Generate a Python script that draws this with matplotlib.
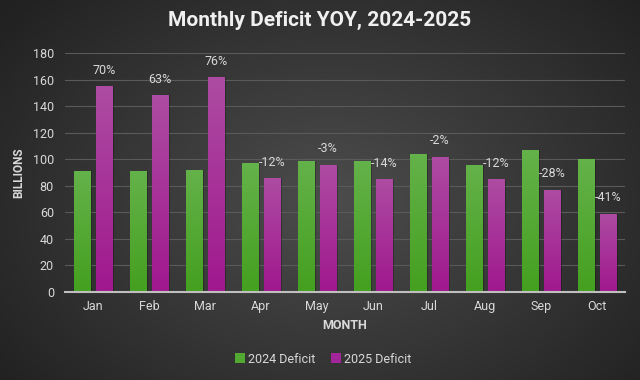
import numpy as np
import matplotlib
matplotlib.use("Agg")
from matplotlib import pyplot as plt

months = ["Jan", "Feb", "Mar", "Apr", "May", "Jun", "Jul", "Aug", "Sep", "Oct"]
deficit_2024 = [91, 91, 92, 97, 99, 99, 104, 96, 107, 100]
deficit_2025 = [155, 148, 162, 86, 96, 85, 102, 85, 77, 59]
yoy_labels = ["70%", "63%", "76%", "-12%", "-3%", "-14%", "-2%", "-12%", "-28%", "-41%"]

plt.rcParams['font.family'] = ['Roboto', 'DejaVu Sans']
txt = '#d9d9d9'

fig = plt.figure(figsize=(6.4, 3.8), dpi=100)

# radial gradient background
bg = fig.add_axes([0, 0, 1, 1], zorder=-10)
yy, xx = np.mgrid[0:380, 0:640]
r = np.sqrt(((xx - 330) / 420.0) ** 2 + ((yy - 200) / 300.0) ** 2)
shade = np.clip(0.30 - 0.17 * r, 0.13, 0.30)
bg.imshow(np.dstack([shade, shade, shade]), aspect='auto', extent=[0, 1, 0, 1])
bg.axis('off')

ax = fig.add_axes([65 / 640, 88 / 380, 560 / 640, 239 / 380])
ax.patch.set_alpha(0)

x = np.arange(len(months))
w = 0.3
off = 0.195
b1 = ax.bar(x - off, deficit_2024, w, color='#52a832', label='2024 Deficit', zorder=3)
b2 = ax.bar(x + off, deficit_2025, w, color='#a3259a', label='2025 Deficit', zorder=3)

# vertical gradient fill on each bar
def shade_bars(bars, top, bottom):
    grad = np.linspace(0, 1, 100).reshape(-1, 1)
    top = np.array(matplotlib.colors.to_rgb(top))
    bottom = np.array(matplotlib.colors.to_rgb(bottom))
    img = top * (1 - grad[..., None]) + bottom * grad[..., None]
    for bar in bars:
        bx, by = bar.get_x(), bar.get_y()
        bw, bh = bar.get_width(), bar.get_height()
        # shadow
        ax.bar(bx + bw / 2 + 0.03, bh, bw, bottom=by, color='black', alpha=0.25, zorder=2)
        im = ax.imshow(img, extent=[bx, bx + bw, by, by + bh], aspect='auto', zorder=4, origin='upper')
        im.set_clip_path(bar)

shade_bars(b1, '#64b24a', '#44a01f')
shade_bars(b2, '#ad4ca2', '#a0188e')

for xi, v, lab in zip(x, deficit_2025, yoy_labels):
    ax.text(xi + off, v + 7, lab, ha='center', va='bottom', color=txt, fontsize=9, zorder=5)

ax.set_xlim(-0.5, len(months) - 0.5)
ax.set_ylim(0, 180)
ax.set_yticks(range(0, 181, 20))
ax.set_xticks(x)
ax.set_xticklabels(months)
ax.tick_params(colors=txt, labelsize=9, length=0, pad=8)
ax.tick_params(axis='x', pad=6)
ax.grid(axis='y', color='#5a5a5a', linewidth=0.8, zorder=0)
for s in ['top', 'right', 'left']:
    ax.spines[s].set_visible(False)
ax.spines['bottom'].set_color('#bfbfbf')
ax.spines['bottom'].set_linewidth(1.5)
ax.spines['bottom'].set_zorder(6)

ax.set_xlabel("MONTH", color=txt, fontsize=9, fontweight='bold', labelpad=4)
ax.set_ylabel("BILLIONS", color=txt, fontsize=8.5, fontweight='bold', labelpad=5)

fig.text(0.5, 0.945, "Monthly Deficit YOY, 2024-2025", ha='center', va='center',
         color='#f0f0f0', fontsize=15, fontweight='bold')

leg = fig.legend(handles=[b1, b2], loc='center', bbox_to_anchor=(0.505, 0.055), ncol=2,
                 frameon=False, fontsize=9, labelcolor=txt, handlelength=0.8, handleheight=0.8,
                 handletextpad=0.3, columnspacing=1.2)

fig.savefig("out.png", dpi=100)
